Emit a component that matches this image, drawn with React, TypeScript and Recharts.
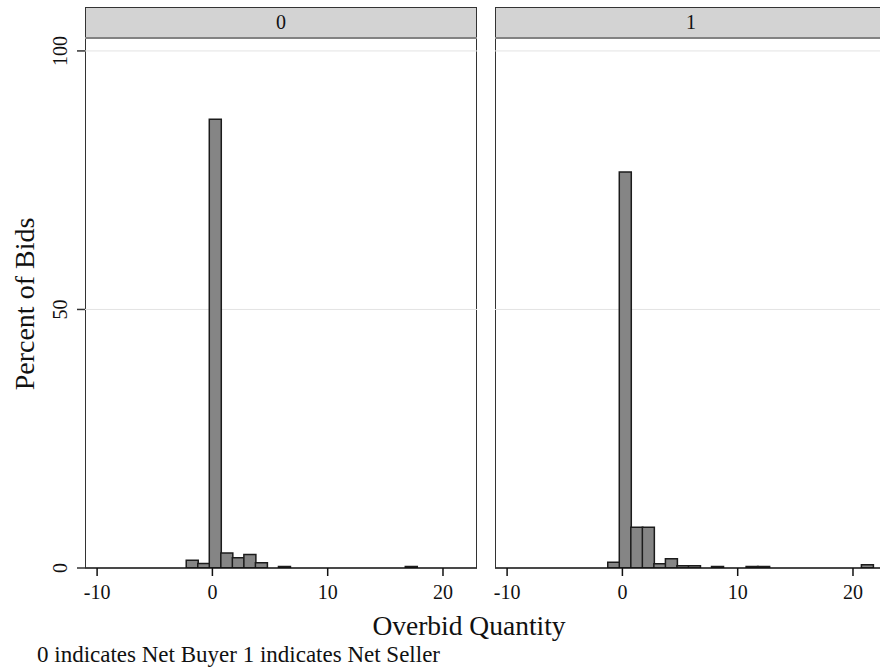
import React from 'react';
import { BarChart, Bar, XAxis, YAxis, CartesianGrid } from 'recharts';

// histogram bins (integer index k covers [k + BIN_START, k + BIN_START + 1))
const bins = [-2, -1, 0, 1, 2, 3, 4, 5, 6, 7, 8, 9, 10, 11, 12, 13, 14, 15, 16, 17, 18, 19, 20, 21];
const BIN_START = -0.27;
const BIN_WIDTH = 1;

// percent of bids, 0 = net buyer
const netBuyer = [1.5, 0.85, 86.8, 2.9, 2.0, 2.6, 1.0, 0, 0.3, 0, 0, 0, 0, 0, 0, 0, 0, 0, 0, 0.3, 0, 0, 0, 0];
// percent of bids, 1 = net seller
const netSeller = [0, 1.1, 76.6, 7.9, 7.9, 0.8, 1.8, 0.45, 0.45, 0, 0.3, 0, 0, 0.3, 0.3, 0, 0, 0, 0, 0, 0, 0, 0, 0.65];

const xTicks = [-10, 0, 10, 20];
const yTicks = [0, 50, 100];
const panelLabels = ['0', '1'];

const X_DOMAIN = [-11.05, 22.95];
const Y_DOMAIN = [0, 102.5];
const FONT = '"Liberation Serif", "Times New Roman", serif';
const PAD = 20; // extra room around each chart so edge labels are not clipped

const toRows = (values: number[]) =>
  bins.map((k, i) => ({ x: k + BIN_START + BIN_WIDTH / 2, pct: values[i] }));

const YTick = ({ y, payload }: any) => {
  const tx = PAD + 67;
  return (
    <text
      x={tx}
      y={y}
      transform={`rotate(-90, ${tx}, ${y})`}
      textAnchor="middle"
      fontSize={20}
      fontFamily={FONT}
      fill="#111"
    >
      {payload.value}
    </text>
  );
};

function Panel({ values, left, label, showY }: { values: number[]; left: number; label: string; showY: boolean }) {
  const yW = showY ? 85 : 0;
  const plotLeft = left + 85 - yW;
  return (
    <>
      <div
        style={{
          position: 'absolute',
          left: left + 85,
          top: 7,
          width: 392,
          height: 561,
          boxSizing: 'border-box',
          border: '1.5px solid #333',
          borderBottom: 'none',
        }}
      >
        <div
          style={{
            height: 29,
            background: '#d3d3d3',
            borderBottom: '2px solid #222',
            textAlign: 'center',
            fontFamily: FONT,
            fontSize: 20,
            lineHeight: '29px',
            color: '#111',
          }}
        >
          {label}
        </div>
      </div>
      <div style={{ position: 'absolute', left: plotLeft - PAD, top: 28 }}>
        <BarChart
          width={392 + yW + 2 * PAD}
          height={580}
          data={toRows(values)}
          margin={{ top: 10, right: PAD, bottom: 0, left: PAD }}
          barCategoryGap={0}
          barGap={0}
        >
          <CartesianGrid horizontal vertical={false} stroke="#e3e3e3" />
          <XAxis
            dataKey="x"
            type="number"
            domain={X_DOMAIN}
            ticks={xTicks}
            interval={0}
            allowDataOverflow
            height={40}
            tickSize={8}
            tickMargin={9}
            stroke="#111"
            strokeWidth={1.5}
            tick={{ fontSize: 20, fontFamily: FONT, fill: '#111' }}
          />
          <YAxis
            type="number"
            domain={Y_DOMAIN}
            ticks={yTicks}
            interval={0}
            allowDataOverflow
            width={yW}
            hide={!showY}
            tickSize={8}
            stroke="#333"
            strokeWidth={1.5}
            axisLine={false}
            tick={<YTick />}
          />
          <Bar dataKey="pct" fill="#858585" stroke="#1c1c1c" strokeWidth={1.5} isAnimationActive={false} />
        </BarChart>
      </div>
    </>
  );
}

export default function App() {
  return (
    <div
      style={{
        position: 'absolute',
        left: 0,
        top: 0,
        width: 880,
        height: 670,
        overflow: 'hidden',
        background: '#fff',
        fontFamily: FONT,
      }}
    >
      <Panel values={netBuyer} left={0} label={panelLabels[0]} showY />
      <Panel values={netSeller} left={410} label={panelLabels[1]} showY={false} />
      <div
        style={{
          position: 'absolute',
          left: 25,
          top: 304,
          transform: 'translate(-50%, -50%) rotate(-90deg)',
          fontSize: 28,
          whiteSpace: 'nowrap',
          color: '#111',
        }}
      >
        Percent of Bids
      </div>
      <div
        style={{
          position: 'absolute',
          left: 469,
          top: 610,
          transform: 'translateX(-50%)',
          fontSize: 27.5,
          whiteSpace: 'nowrap',
          color: '#111',
        }}
      >
        Overbid Quantity
      </div>
      <div
        style={{
          position: 'absolute',
          left: 37,
          top: 642,
          fontSize: 23,
          whiteSpace: 'nowrap',
          color: '#111',
        }}
      >
        0 indicates Net Buyer 1 indicates Net Seller
      </div>
    </div>
  );
}
